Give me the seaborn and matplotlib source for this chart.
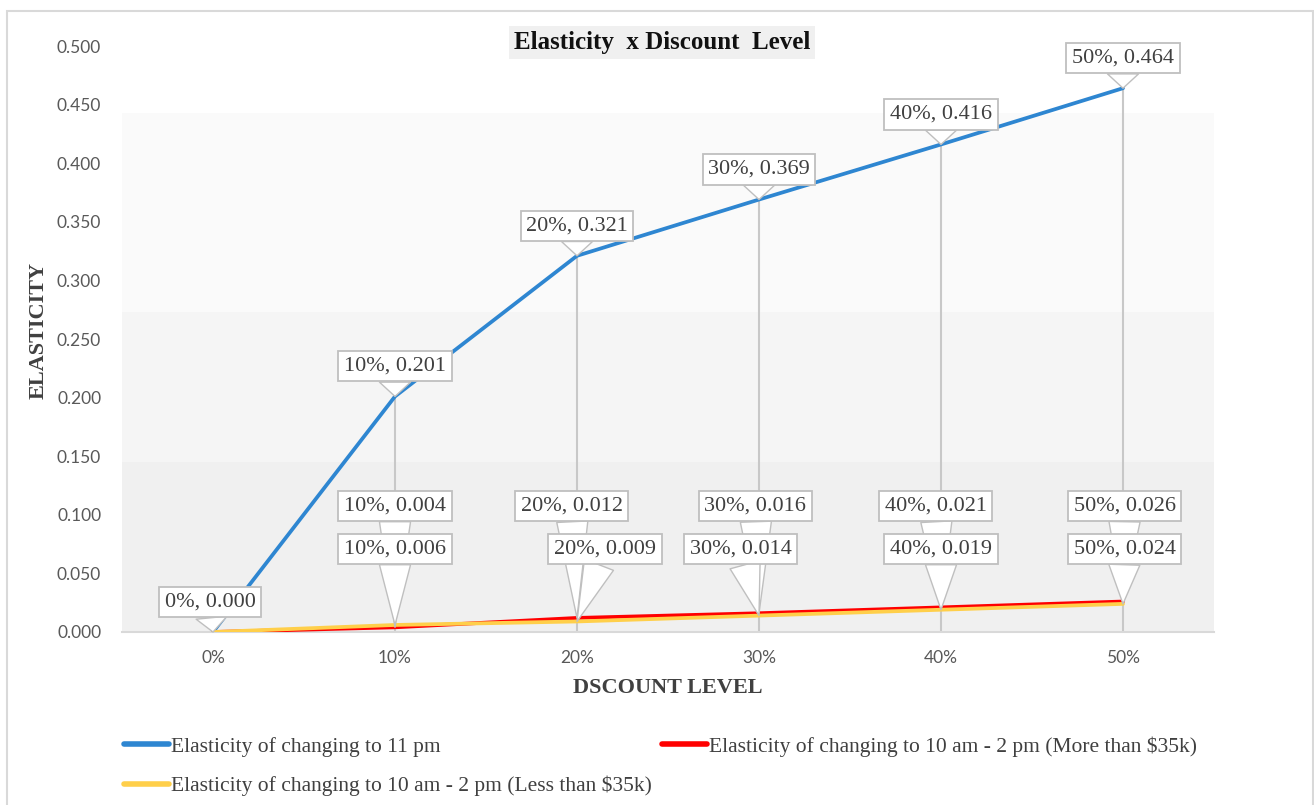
import numpy as np
import pandas as pd
import matplotlib
matplotlib.use('Agg')
import matplotlib.pyplot as plt
from matplotlib.patches import Rectangle
import seaborn as sns

levels = ["0%", "10%", "20%", "30%", "40%", "50%"]
series_names = ["Elasticity of changing to 11 pm",
                "Elasticity of changing to 10 am - 2 pm (More than $35k)",
                "Elasticity of changing to 10 am - 2 pm (Less than $35k)"]
elast_11pm = [0.000, 0.201, 0.321, 0.369, 0.416, 0.464]
elast_more35k = [0.000, 0.004, 0.012, 0.016, 0.021, 0.026]
elast_less35k = [0.000, 0.006, 0.009, 0.014, 0.019, 0.024]
yticks = [0.0, 0.05, 0.1, 0.15, 0.2, 0.25, 0.3, 0.35, 0.4, 0.45, 0.5]

colors = ["#2e86d1", "#ff0000", "#ffcf4a"]
serif = ["Liberation Serif", "DejaVu Serif"]
sans = ["Lato", "DejaVu Sans"]


def callout(ax, text, xy, xytext):
    ax.annotate(text, xy=xy, xytext=xytext, textcoords="data", ha="center", va="center",
                fontsize=16, family=serif, color="#404040", zorder=6,
                bbox=dict(boxstyle="square,pad=0.25", fc="white", ec="#bfbfbf", lw=1.3),
                arrowprops=dict(arrowstyle="wedge,tail_width=1.4,shrink_factor=0.5",
                                fc="white", ec="#bfbfbf", lw=1.0, shrinkA=0, shrinkB=0))


def main():
    sns.set_style('white')
    plt.rcParams['font.family'] = serif

    df = pd.concat([
        pd.DataFrame({"level": levels, "value": vals, "series": name})
        for vals, name in zip([elast_11pm, elast_more35k, elast_less35k], series_names)
    ], ignore_index=True)

    fig = plt.figure(figsize=(13.14, 8.05), dpi=100)
    ax = fig.add_axes([122 / 1314, 1 - 632 / 805, 1092 / 1314, 586 / 805])

    # banded plot area
    ax.axhspan(0.0, 0.145, color="#f0f0f0", zorder=0, lw=0)
    ax.axhspan(0.145, 0.273, color="#f5f5f5", zorder=0, lw=0)
    ax.axhspan(0.273, 0.443, color="#fafafa", zorder=0, lw=0)

    # drop lines
    ax.vlines(levels, 0, elast_11pm, color="#c8c8c8", lw=1.5, zorder=1)

    sns.lineplot(data=df, x="level", y="value", hue="series", hue_order=series_names,
                 palette=colors, sort=False, lw=2.7, ax=ax, zorder=3)

    ax.set_xlim(-0.5, len(levels) - 0.5)
    ax.set_ylim(0, 0.5)
    ax.set_yticks(yticks)
    ax.set_yticklabels(["%.3f" % t for t in yticks])
    ax.tick_params(axis="both", length=0, labelsize=12.5, labelcolor="#595959")
    ax.tick_params(axis="y", pad=15)
    ax.tick_params(axis="x", pad=13)
    for lab in ax.get_xticklabels() + ax.get_yticklabels():
        lab.set_family(sans)
    for s in ["top", "left", "right"]:
        ax.spines[s].set_visible(False)
    ax.spines["bottom"].set_color("#d9d9d9")
    ax.spines["bottom"].set_linewidth(1.5)

    # data callouts
    x_pos = np.arange(len(levels))
    blue_dx = [-0.016, 0, 0, 0, 0, 0]
    for i, v in enumerate(elast_11pm):
        callout(ax, "%s, %.3f" % (levels[i], v), (x_pos[i], v), (x_pos[i] + blue_dx[i], v + 0.0256))
    red_dx = [0, 0, -0.03, -0.02, -0.03, 0.01]
    yel_dx = [0, 0, 0.154, -0.1, 0, 0.01]
    for i in range(1, len(levels)):
        callout(ax, "%s, %.3f" % (levels[i], elast_more35k[i]), (x_pos[i], elast_more35k[i]),
                (x_pos[i] + red_dx[i], 0.1075))
    for i in range(1, len(levels)):
        callout(ax, "%s, %.3f" % (levels[i], elast_less35k[i]), (x_pos[i], elast_less35k[i]),
                (x_pos[i] + yel_dx[i], 0.0708))

    ax.text(0.4945, 1.0068, "Elasticity  x Discount  Level", transform=ax.transAxes,
            ha="center", va="center", fontsize=18, fontweight="bold", color="#111111",
            bbox=dict(boxstyle="square,pad=0.2", fc="#f0f0f0", ec="none"), zorder=7)

    ax.set_xlabel("DSCOUNT LEVEL", fontsize=16, fontweight="bold", color="#404040")
    ax.set_ylabel("ELASTICITY", fontsize=16, fontweight="bold", color="#404040")
    ax.xaxis.set_label_coords(0.5, -0.0956)
    ax.xaxis.label.set_va("center")
    ax.yaxis.set_label_coords((39 - 122) / 1092, 0.515)
    ax.yaxis.label.set_va("center")

    handles, labels = ax.get_legend_handles_labels()
    ax.get_legend().remove()
    for h in handles:
        h.set_linewidth(4)
    order = [0, 2, 1]
    fig.legend([handles[i] for i in order], [labels[i] for i in order], ncol=2,
               loc="upper left", bbox_to_anchor=(124 / 1314, 1 - 736 / 805),
               frameon=False, fontsize=15.5, handlelength=2.1, handletextpad=0.1,
               columnspacing=0.45, labelspacing=0.9, borderpad=0, borderaxespad=0,
               labelcolor="#404040")

    fig.patches.append(Rectangle((7 / 1314, -0.01), 1306 / 1314, 1 - 11 / 805 + 0.01,
                                 transform=fig.transFigure, fill=False, ec="#d9d9d9", lw=1.5))

    fig.savefig("out.png", dpi=100)
    plt.close(fig)


if __name__ == '__main__':
    main()
